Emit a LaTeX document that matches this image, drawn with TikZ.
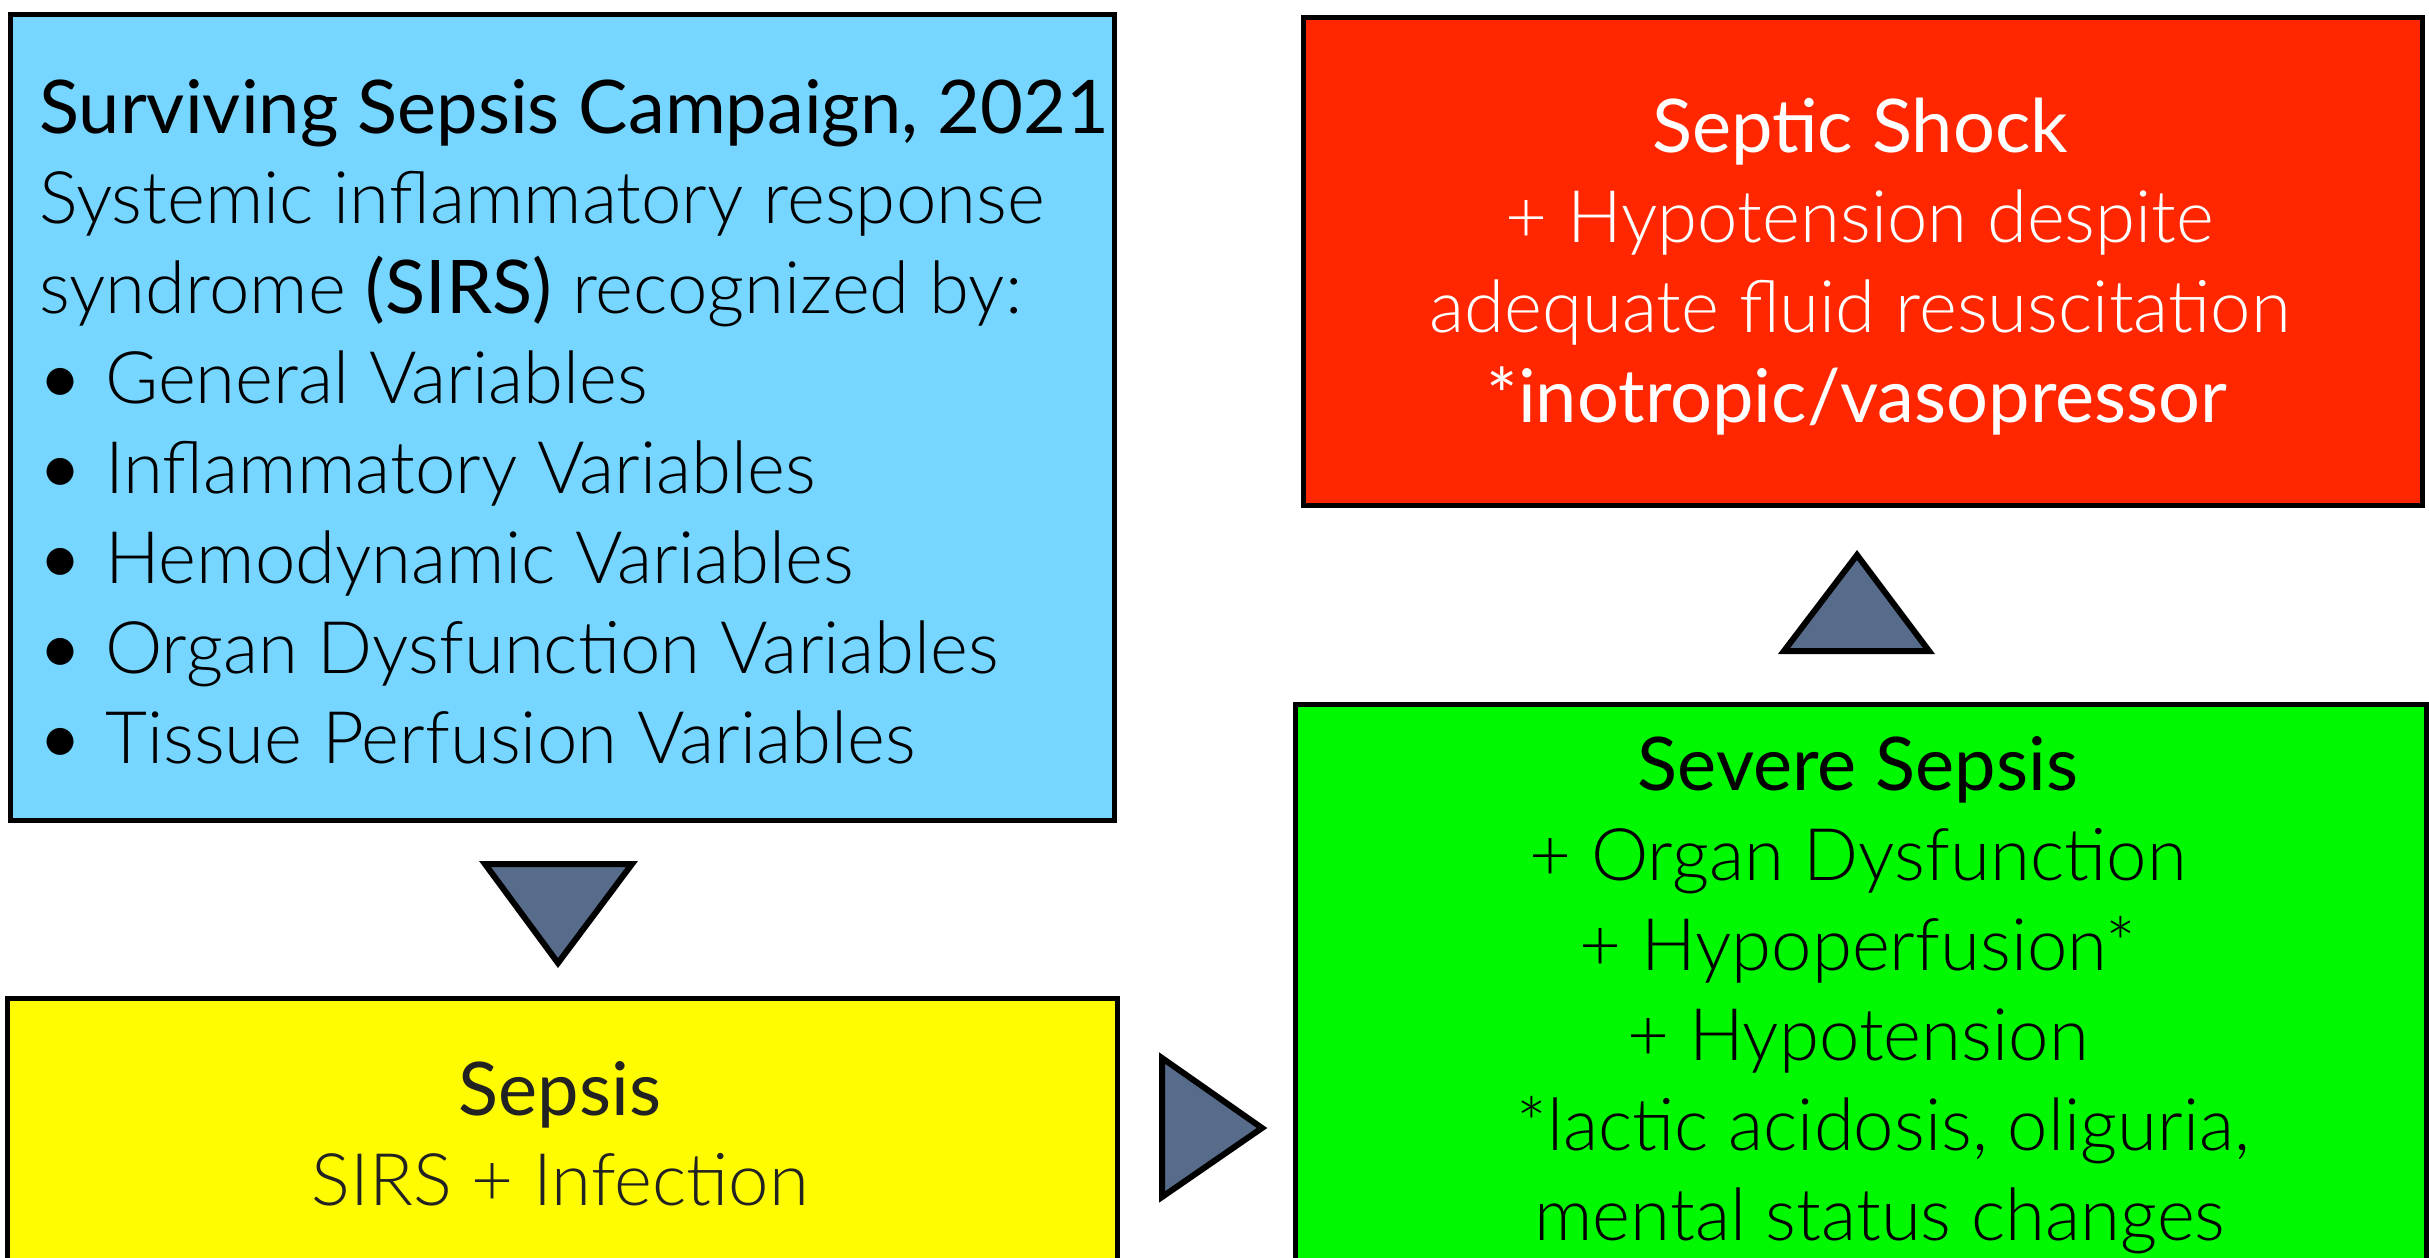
\documentclass[tikz,border=0pt]{standalone}
\usepackage{fontspec}
\setmainfont{Lato}
\newfontfamily\lightfont{Lato Light}
\definecolor{skyb}{HTML}{76D6FF}
\definecolor{shockred}{HTML}{FF2600}
\definecolor{sevgreen}{HTML}{00F900}
\definecolor{sepyellow}{HTML}{FFFB00}
\definecolor{arrowfill}{HTML}{566C8A}
\definecolor{darktext}{HTML}{222222}
\begin{document}
\begin{tikzpicture}[x=1pt,y=-1pt,
  box/.style={draw=black, line width=5pt, anchor=north west, inner sep=0pt},
  tri/.style={draw=black, line width=6pt, fill=arrowfill, line join=miter},
  body/.style={font=\lightfont\fontsize{72.5}{90}\selectfont, inner sep=0pt},
  head/.style={font=\fontsize{74}{90}\selectfont, inner sep=0pt}]
\useasboundingbox (0,0) rectangle (2429,1258);
\begin{scope}
\clip (0,0) rectangle (2429,1258);
% boxes
\node[box, fill=skyb, minimum width=1104pt, minimum height=806pt] (sirs) at (8,12) {};
\node[box, fill=shockred, minimum width=1119pt, minimum height=488pt] (shock) at (1301,15) {};
\node[box, fill=sevgreen, minimum width=1131pt, minimum height=600pt] (severe) at (1293,702) {};
\node[box, fill=sepyellow, minimum width=1110pt, minimum height=320pt] (sepsis) at (5,996) {};
% SIRS text
\node[head, anchor=base west] (s1) at (39,133) {Surviving Sepsis Campaign, 2021};
\node[body, anchor=base west] (s2) at (39,223) {Systemic inflammatory response};
\node[body, anchor=base west] (s3) at (39,313) {syndrome {\rmfamily\fontsize{74}{90}\selectfont(SIRS)} recognized by:};
\foreach \t [count=\i] in {General Variables, Inflammatory Variables, Hemodynamic Variables, Organ Dysfunction Variables, Tissue Perfusion Variables}
  \node[body, anchor=base west] (b\i) at (39,313+90*\i) {\makebox[66pt][l]{\rmfamily\textbullet}\t};
% Shock text
\node[head, text=white, anchor=base] (r1) at (1860,152) {Septic Shock};
\node[body, text=white, anchor=base] (r2) at (1860,242) {+ Hypotension despite};
\node[body, text=white, anchor=base] (r3) at (1860,332) {adequate fluid resuscitation};
\node[head, text=white, anchor=base] (r4) at (1857,422) {*inotropic/vasopressor};
% Severe text
\node[head, anchor=base] (g1) at (1858,790) {Severe Sepsis};
\node[body, anchor=base] (g2) at (1858,880) {+ Organ Dysfunction};
\node[body, anchor=base] (g3) at (1858,970) {+ Hypoperfusion*};
\node[body, anchor=base] (g4) at (1858,1060) {+ Hypotension};
\node[body, anchor=base] (g5) at (1883,1150) {*lactic acidosis, oliguria,};
\node[body, anchor=base] (g6) at (1880,1240) {mental status changes};
% Sepsis text
\node[head, text=darktext, anchor=base] (y1) at (560,1115) {Sepsis};
\node[body, text=darktext, anchor=base] (y2) at (560,1205) {SIRS + Infection};
% triangle arrows
\coordinate (d1) at (485,864); \coordinate (d2) at (632,864); \coordinate (d3) at (558,963);
\coordinate (u1) at (1784,651); \coordinate (u2) at (1929,651); \coordinate (u3) at (1857,555);
\coordinate (h1) at (1162,1058); \coordinate (h2) at (1262,1128); \coordinate (h3) at (1162,1197);
\draw[tri] (d1) -- (d2) -- (d3) -- cycle;
\draw[tri] (u1) -- (u2) -- (u3) -- cycle;
\draw[tri] (h1) -- (h2) -- (h3) -- cycle;
\end{scope}
\end{tikzpicture}
\end{document}
